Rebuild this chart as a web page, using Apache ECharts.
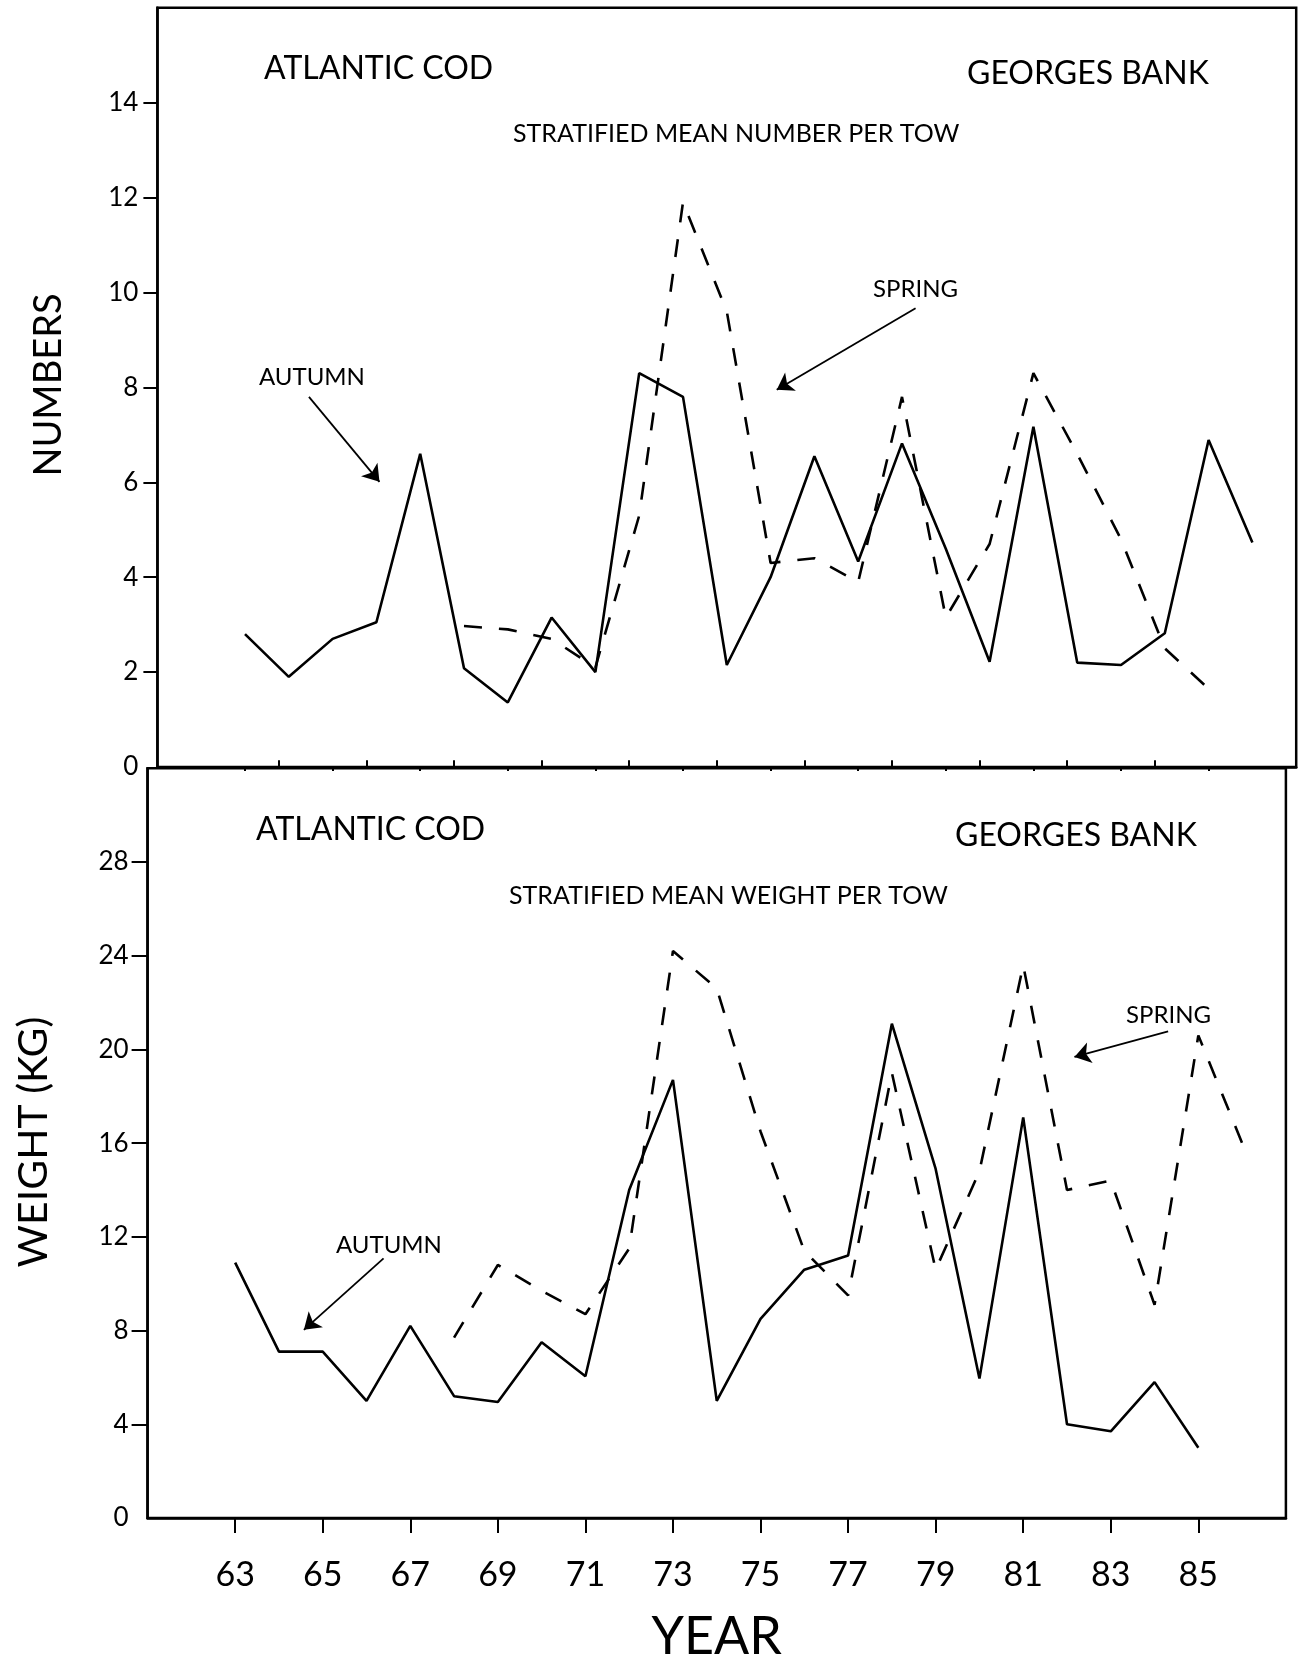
<!DOCTYPE html>
<html>
<head>
<meta charset="utf-8">
<style>
  html, body { margin: 0; padding: 0; background: #fff; }
  #chart { width: 1302px; height: 1664px; }
</style>
<script src="https://cdn.jsdelivr.net/npm/echarts@6/dist/echarts.min.js"></script>
</head>
<body>
<div id="chart"></div>
<script>
// ---------- DATA ----------
const autumnYearsTop = [63,64,65,66,67,68,69,70,71,72,73,74,75,76,77,78,79,80,81,82,83,84,85,86];
const autumnNumbers  = [2.8,1.9,2.7,3.05,6.6,2.08,1.36,3.15,2.0,8.3,7.8,2.15,4.0,6.55,4.33,6.82,4.6,2.22,7.17,2.2,2.15,2.82,6.89,4.73];
const springYearsTop = [68,69,70,71,72,73,74,75,76,77,78,79,80,81,82,83,84,85];
const springNumbers  = [2.97,2.9,2.7,2.1,5.3,11.9,9.6,4.3,4.4,3.9,7.8,3.15,4.7,8.3,6.6,4.8,2.5,1.65];

const autumnYearsBottom = [63,64,65,66,67,68,69,70,71,72,73,74,75,76,77,78,79,80,81,82,83,84,85];
const autumnWeights     = [10.9,7.1,7.1,5.0,8.2,5.2,4.95,7.5,6.05,14.0,18.7,5.0,8.5,10.6,11.2,21.1,14.9,5.95,17.1,4.0,3.7,5.8,3.0];
const springYearsBottom = [68,69,70,71,72,73,74,75,76,77,78,79,80,81,82,83,84,85,86];
const springWeights     = [7.7,10.8,9.7,8.7,11.5,24.2,22.6,16.5,11.4,9.5,19.0,10.6,14.8,23.6,14.0,14.4,9.1,20.6,16.0];

const oddYearTicks  = [63,65,67,69,71,73,75,77,79,81,83,85];
const evenYearTicks = [64,66,68,70,72,74,76,78,80,82,84];
const numberLabels  = [0,2,4,6,8,10,12,14];
const numberTicks   = [2,4,6,8,10,12,14];
const weightLabels  = [0,4,8,12,16,20,24,28];
const weightTicks   = [4,8,12,16,20,24,28];

// annotation arrows, in data coordinates [year, value]
const autumnArrowTop    = [[64.46, 7.80], [66.07, 6.01]];
const springArrowTop    = [[78.31, 9.67], [75.14, 7.95]];
const autumnArrowBottom = [[66.39, 11.08], [64.57, 8.03]];
const springArrowBottom = [[84.31, 20.77], [82.17, 19.68]];

// ---------- CHART ----------
const FONT = 'Lato';
const pairs = (xs, ys) => xs.map((x, i) => [x, ys[i]]);
const arrow = a => [{ coord: a[0] }, { coord: a[1] }];

const chart = echarts.init(document.getElementById('chart'), null, { renderer: 'canvas' });

const frame = { show: true, borderColor: '#000', borderWidth: 2.5, backgroundColor: 'transparent' };
const axisLineStyle = { show: true, lineStyle: { color: '#000', width: 2.5 } };

const markArrows = list => ({
  silent: true,
  animation: false,
  symbol: ['none', 'arrow'],
  symbolSize: 16,
  itemStyle: { color: '#000' },
  lineStyle: { color: '#000', width: 1.8, type: 'solid' },
  label: { show: false },
  emphasis: { disabled: true },
  data: list.map(arrow)
});

const lineSeries = (xi, yi, data, dashed, marks) => ({
  type: 'line',
  xAxisIndex: xi,
  yAxisIndex: yi,
  data: data,
  showSymbol: false,
  symbol: 'none',
  silent: true,
  animation: false,
  lineStyle: { color: '#000', width: 2.6, type: dashed ? [18, 17] : 'solid' },
  markLine: marks ? markArrows(marks) : undefined
});

const txt = (text, x, y, size, extra) => Object.assign({
  type: 'text', x: x, y: y, silent: true,
  style: { text: text, fill: '#000', fontSize: size, fontFamily: FONT,
           align: 'left', verticalAlign: 'middle' }
}, extra || {});

const option = {
  backgroundColor: '#fff',
  animation: false,
  grid: [
    Object.assign({ left: 157.4, top: 7.8, width: 1138.8, height: 759.2 }, frame),
    Object.assign({ left: 147.6, top: 768.3, width: 1138.3, height: 759.7 }, frame)
  ],
  xAxis: [
    { type: 'value', gridIndex: 0, min: 61, max: 87,
      axisLine: axisLineStyle,
      axisTick: { show: true, customValues: oddYearTicks, length: 4, lineStyle: { color: '#000', width: 2 } },
      axisLabel: { show: false }, splitLine: { show: false } },
    { type: 'value', gridIndex: 1, min: 61, max: 87,
      axisLine: axisLineStyle,
      axisTick: { show: true, customValues: oddYearTicks, length: 15, lineStyle: { color: '#000', width: 2 } },
      axisLabel: { show: true, customValues: oddYearTicks, color: '#000', fontSize: 34, fontFamily: FONT, margin: 40,
                   formatter: v => String(v) },
      splitLine: { show: false },
      name: 'YEAR', nameLocation: 'middle', nameGap: 93,
      nameTextStyle: { color: '#000', fontSize: 52, fontFamily: FONT } },
    { type: 'value', gridIndex: 1, min: 61, max: 87,
      axisLine: { show: false },
      axisTick: { show: true, customValues: evenYearTicks, length: 8, lineStyle: { color: '#000', width: 2 } },
      axisLabel: { show: false }, splitLine: { show: false } }
  ],
  yAxis: [
    { type: 'value', gridIndex: 0, min: 0, max: 16,
      axisLine: axisLineStyle,
      axisTick: { show: true, customValues: numberTicks, length: 14, lineStyle: { color: '#000', width: 2 } },
      axisLabel: { show: true, customValues: numberLabels, color: '#000', fontSize: 26, fontFamily: FONT, margin: 19 },
      splitLine: { show: false } },
    { type: 'value', gridIndex: 1, min: 0, max: 32,
      axisLine: axisLineStyle,
      axisTick: { show: true, customValues: weightTicks, length: 16, lineStyle: { color: '#000', width: 2 } },
      axisLabel: { show: true, customValues: weightLabels, color: '#000', fontSize: 26, fontFamily: FONT, margin: 19 },
      splitLine: { show: false } }
  ],
  series: [
    lineSeries(0, 0, pairs(autumnYearsTop, autumnNumbers), false, [autumnArrowTop, springArrowTop]),
    lineSeries(0, 0, pairs(springYearsTop, springNumbers), true),
    lineSeries(1, 1, pairs(autumnYearsBottom, autumnWeights), false, [autumnArrowBottom, springArrowBottom]),
    lineSeries(1, 1, pairs(springYearsBottom, springWeights), true)
  ],
  graphic: [
    txt('ATLANTIC COD', 264, 69, 32),
    txt('GEORGES BANK', 967, 74, 32),
    txt('STRATIFIED MEAN NUMBER PER TOW', 513, 134, 25),
    txt('SPRING', 873, 289, 24),
    txt('AUTUMN', 259, 377, 24),
    txt('ATLANTIC COD', 256, 830, 32),
    txt('GEORGES BANK', 955, 836, 32),
    txt('STRATIFIED MEAN WEIGHT PER TOW', 509, 896, 25),
    txt('SPRING', 1126, 1015, 24),
    txt('AUTUMN', 336, 1245, 24),
    { type: 'text', x: 49, y: 385, rotation: Math.PI / 2, silent: true,
      style: { text: 'NUMBERS', fill: '#000', fontSize: 38, fontFamily: FONT, align: 'center', verticalAlign: 'middle' } },
    { type: 'text', x: 34, y: 1142, rotation: Math.PI / 2, silent: true,
      style: { text: 'WEIGHT (KG)', fill: '#000', fontSize: 41, fontFamily: FONT, align: 'center', verticalAlign: 'middle' } }
  ]
};

chart.setOption(option);
</script>
</body>
</html>
